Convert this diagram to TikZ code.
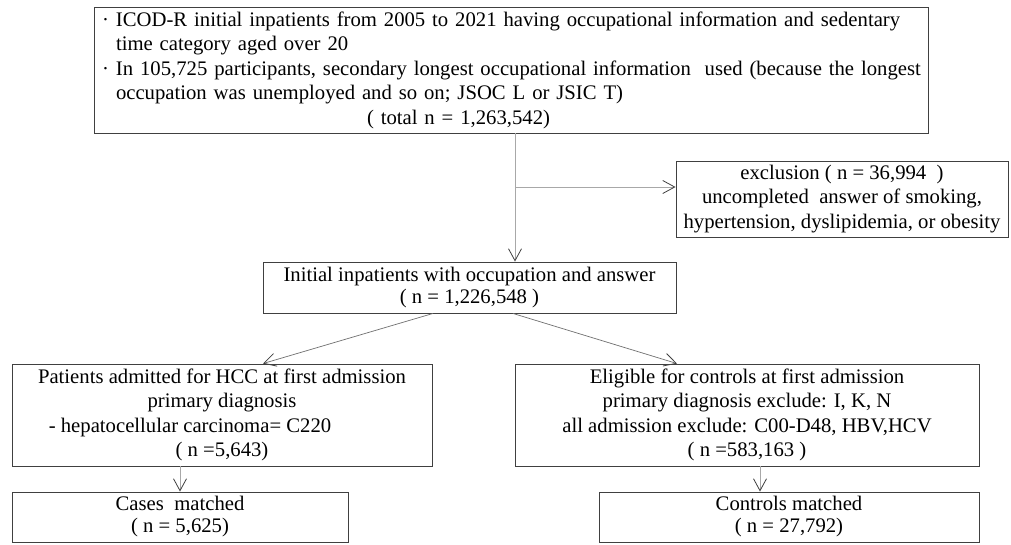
\documentclass[tikz,border=0pt]{standalone}
\usepackage{fontspec}
\setmainfont{Liberation Serif}
\usetikzlibrary{arrows.meta}
\definecolor{boxc}{HTML}{404040}
\definecolor{linec}{HTML}{A8A8A8}
\definecolor{diagc}{HTML}{707070}
\tikzset{
  box/.style={draw=boxc, line width=0.9pt, inner sep=0pt, align=center, font=\fontsize{20.7}{24.5}\selectfont},
  conn/.style={draw=linec, line width=0.7pt, -{Straight Barb[length=12pt,width=13pt,line width=0.8pt,color=boxc]}},
  diag/.style={conn, draw=diagc},
}
\begin{document}
\begin{tikzpicture}[x=1pt,y=-1pt]
\useasboundingbox[fill=white] (0,0) rectangle (1011,544);
\node[box, minimum width=834pt, minimum height=126pt, text width=818pt, inner xsep=8pt, align=left] (top) at (511,70)
 {\mbox{\makebox[14pt][l]{·}ICOD-R initial inpatients from 2005 to 2021 having occupational information and sedentary}\\
  \mbox{\hspace*{14pt}time category aged over 20}\\
  \mbox{\makebox[14pt][l]{·}In 105,725 participants, secondary longest occupational information\ \ used (because the longest}\\
  \mbox{\hspace*{14pt}occupation was unemployed and so on; JSOC L or JSIC T)}\\
  \mbox{\hspace*{265pt}( total n = 1,263,542)}};
\node[box, minimum width=332pt, minimum height=76pt] (excl) at (842,199)
 {exclusion ( n = 36,994\ \ )\\ uncompleted\ \ answer of smoking,\\ hypertension, dyslipidemia, or obesity};
\node[box, minimum width=413pt, minimum height=51pt, font=\fontsize{20.7}{22}\selectfont] (mid) at (469.5,287.5)
 {Initial inpatients with occupation and answer\\ ( n = 1,226,548 )};
\node[box, minimum width=420pt, minimum height=102pt] (hcc) at (222,415)
 {Patients admitted for HCC at first admission\\ primary diagnosis\\ \mbox{- hepatocellular carcinoma= C220\hspace*{64pt}}\\ ( n =5,643)};
\node[box, minimum width=464pt, minimum height=102pt] (elig) at (747,415)
 {Eligible for controls at first admission\\ primary diagnosis exclude: I, K, N\\ all admission exclude: C00-D48, HBV,HCV\\ ( n =583,163 )};
\node[box, minimum width=336pt, minimum height=50pt, font=\fontsize{20.7}{22}\selectfont] (cases) at (180,517)
 {Cases\ \ matched\\ ( n = 5,625)};
\node[box, minimum width=380pt, minimum height=50pt, font=\fontsize{20.7}{22}\selectfont] (ctrl) at (789,517)
 {Controls matched\\ ( n = 27,792)};
\coordinate (split) at (515,187);
\draw[conn] (top.south -| split) -- (mid.north -| split);
\draw[conn] (split) -- (excl.west |- split);
\draw[diag] (mid.south -| 433,0) -- (hcc.north -| 263,0);
\draw[diag] (mid.south -| 513,0) -- (elig.north -| 677,0);
\draw[conn] (hcc.south -| cases.north) -- (cases.north);
\draw[conn] (elig.south -| 760,0) -- (ctrl.north -| 760,0);
\end{tikzpicture}
\end{document}
